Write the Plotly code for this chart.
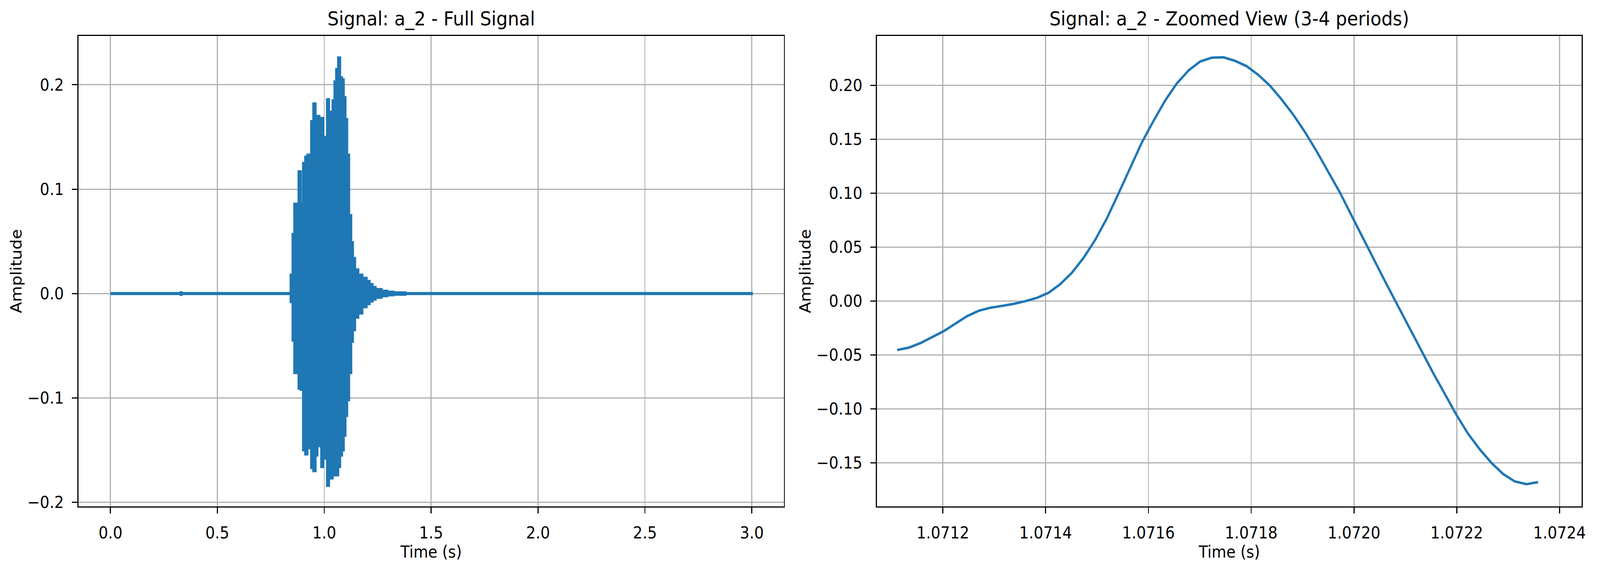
import numpy as np
import plotly.graph_objects as go

# full signal: envelope read per pitch period (segment edges in s, max / min amplitude)
env_edges = [0.000, 0.329, 0.332, 0.843, 0.852, 0.860, 0.870, 0.880, 0.890, 0.901,
             0.911, 0.921, 0.930, 0.939, 0.949, 0.959, 0.968, 0.977, 0.986, 0.995,
             1.004, 1.013, 1.022, 1.030, 1.039, 1.048, 1.056, 1.065, 1.074, 1.083,
             1.091, 1.099, 1.107, 1.116, 1.126, 1.134, 1.144, 1.159, 1.178, 1.198,
             1.212, 1.226, 1.240, 1.268, 1.295, 1.323, 1.379, 3.000]
env_upper = [0.0004, 0.0012, 0.0004, 0.018, 0.057, 0.086, 0.077, 0.117, 0.086, 0.125,
             0.131, 0.133, 0.128, 0.165, 0.182, 0.162, 0.170, 0.153, 0.168, 0.137,
             0.150, 0.186, 0.174, 0.173, 0.185, 0.203, 0.215, 0.226, 0.207, 0.205,
             0.188, 0.167, 0.133, 0.075, 0.049, 0.034, 0.023, 0.018, 0.015, 0.012,
             0.0090, 0.0062, 0.0042, 0.0025, 0.0017, 0.0010, 0.0004]
env_lower = [-0.0004, -0.0012, -0.0004, -0.008, -0.045, -0.076, -0.070, -0.091, -0.092, -0.150,
             -0.154, -0.148, -0.121, -0.167, -0.170, -0.155, -0.140, -0.146, -0.166, -0.132,
             -0.158, -0.184, -0.163, -0.177, -0.166, -0.174, -0.174, -0.166, -0.155, -0.150,
             -0.136, -0.117, -0.102, -0.076, -0.046, -0.035, -0.023, -0.019, -0.013, -0.0100,
             -0.0075, -0.0057, -0.0039, -0.0024, -0.0016, -0.0010, -0.0004]

# zoomed view: samples 47236..47291 at 44.1 kHz
FS = 44100
ZOOM_START = 47236
zoom_amp = [-0.0453, -0.0431, -0.0389, -0.0336, -0.0278, -0.0208, -0.0139, -0.0089,
            -0.0061, -0.0044, -0.0025, 0.0000, 0.0031, 0.0078, 0.0158, 0.0264,
            0.0403, 0.0569, 0.0769, 0.1000, 0.1236, 0.1472, 0.1672, 0.1861,
            0.2019, 0.2139, 0.2222, 0.2258, 0.2261, 0.2228, 0.2178, 0.2097,
            0.1997, 0.1869, 0.1728, 0.1567, 0.1389, 0.1200, 0.1006, 0.0792,
            0.0578, 0.0367, 0.0156, -0.0050, -0.0258, -0.0464, -0.0667, -0.0861,
            -0.1056, -0.1231, -0.1375, -0.1500, -0.1603, -0.1672, -0.1697, -0.1678]
zoom_time = np.arange(ZOOM_START, ZOOM_START + len(zoom_amp)) / FS

BLUE = "#1f77b4"
FONT = "DejaVu Sans"
W, H = 4457, 1469

# band outline: upper edge forward, lower edge back
band_x, band_y = [], []
for i, u in enumerate(env_upper):
    band_x += [env_edges[i], env_edges[i + 1]]
    band_y += [u, u]
for i in range(len(env_lower) - 1, -1, -1):
    band_x += [env_edges[i + 1], env_edges[i]]
    band_y += [env_lower[i], env_lower[i]]

fig = go.Figure()
fig.add_trace(go.Scatter(x=band_x, y=band_y, mode="lines", fill="toself",
                         fillcolor=BLUE, line=dict(color=BLUE, width=6),
                         xaxis="x", yaxis="y", showlegend=False))
fig.add_trace(go.Scatter(x=zoom_time, y=zoom_amp, mode="lines",
                         line=dict(color=BLUE, width=6.25),
                         xaxis="x2", yaxis="y2", showlegend=False))

ax_style = dict(showline=True, mirror=True, linecolor="black", linewidth=3.3,
                ticks="outside", ticklen=15, tickwidth=3.3, tickcolor="black",
                showgrid=True, gridcolor="#b0b0b0", gridwidth=3.3, zeroline=False,
                tickfont=dict(family=FONT, size=42, color="black"),
                ticklabelstandoff=14)
y_dom = [1 - 1309 / H, 1 - 93 / H]

fig.update_layout(
    width=W, height=H, margin=dict(l=0, r=0, t=0, b=0),
    paper_bgcolor="white", plot_bgcolor="white",
    font=dict(family=FONT, color="black"),
    xaxis=dict(ax_style, domain=[219 / W, 2189 / W], anchor="y",
               range=[-0.15, 3.15], tick0=0, dtick=0.5, tickformat=".1f",
               title=dict(text="Time (s)", font=dict(size=42), standoff=9)),
    yaxis=dict(ax_style, domain=y_dom, anchor="x",
               range=[-0.2037, 0.2467], tick0=0, dtick=0.1, tickformat=".1f",
               title=dict(text="Amplitude", font=dict(size=42), standoff=3)),
    xaxis2=dict(ax_style, domain=[2449 / W, 4417 / W], anchor="y2",
                range=[1.0710718, 1.0724432], tick0=1.0712, dtick=0.0002, tickformat=".4f",
                title=dict(text="Time (s)", font=dict(size=42), standoff=9)),
    yaxis2=dict(ax_style, domain=y_dom, anchor="x2",
                range=[-0.1902, 0.2459], tick0=0, dtick=0.05, tickformat=".2f",
                title=dict(text="Amplitude", font=dict(size=42), standoff=3)),
)

for x0, x1, text in [(219, 2189, "Signal: a_2 - Full Signal"),
                     (2449, 4417, "Signal: a_2 - Zoomed View (3-4 periods)")]:
    fig.add_annotation(x=(x0 + x1) / 2 / W, y=1 - 80 / H, xref="paper", yref="paper",
                       text=text, showarrow=False, xanchor="center", yanchor="bottom",
                       font=dict(family=FONT, size=50, color="black"))

# the window may be narrower than the figure: stretch the page to fill it
fit_js = """
document.documentElement.style.overflow = 'hidden';
var b = document.body;
b.style.margin = '0';
b.style.width = '%dpx';
b.style.height = '%dpx';
b.style.transformOrigin = '0 0';
b.style.transform = 'scale(' + (window.innerWidth / %d) + ',' + (window.innerHeight / %d) + ')';
""" % (W, H, W, H)

fig.write_html("out.html", post_script=fit_js, config={"displayModeBar": False})
